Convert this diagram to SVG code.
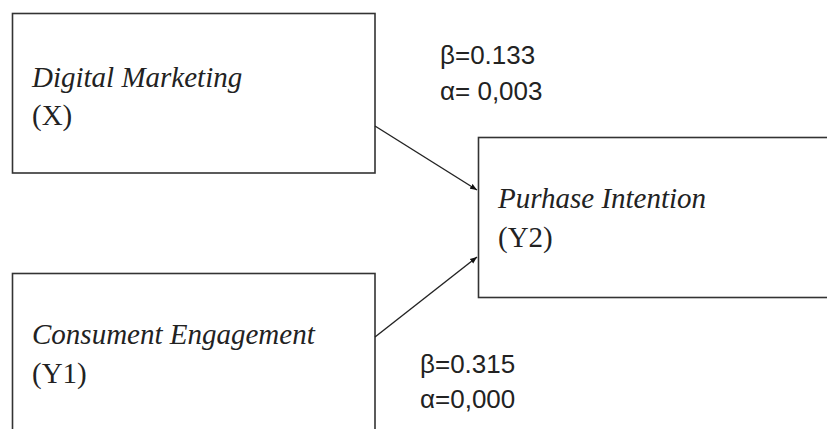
<svg xmlns="http://www.w3.org/2000/svg" width="827" height="429" viewBox="0 0 827 429">
<defs>
<style>
.box{fill:#fff;stroke:#333;stroke-width:1.6}
.nt{font-family:"Liberation Serif","Times New Roman",serif;font-size:29px;fill:#222}
.it{font-style:italic}
.lb{font-family:"Liberation Sans",Arial,sans-serif;font-size:26px;fill:#222}
.cn{stroke:#222;stroke-width:1.4;fill:none;marker-end:url(#ah)}
</style>
<marker id="ah" viewBox="0 0 10 10" refX="10" refY="5" markerWidth="7" markerHeight="7" markerUnits="userSpaceOnUse" orient="auto">
<path d="M0,1 L10,5 L0,9 z" fill="#111"/>
</marker>
</defs>
<rect width="827" height="429" fill="#fff"/>
<g id="node-x">
<rect class="box" x="12.5" y="13.5" width="362.5" height="159.5"/>
<text class="nt it" x="32" y="87">Digital Marketing</text>
<text class="nt" x="32" y="125">(X)</text>
</g>
<g id="node-y2">
<rect class="box" x="478.5" y="137.5" width="360" height="160"/>
<text class="nt it" x="498" y="208">Purhase Intention</text>
<text class="nt" x="498" y="247">(Y2)</text>
</g>
<g id="node-y1">
<rect class="box" x="12.5" y="273.5" width="362.5" height="170"/>
<text class="nt it" x="32" y="344">Consument Engagement</text>
<text class="nt" x="32" y="383">(Y1)</text>
</g>
<g id="connectors">
<line class="cn" x1="375" y1="126" x2="477" y2="190"/>
<line class="cn" x1="375" y1="337" x2="477" y2="257"/>
</g>
<g id="labels">
<text class="lb" x="440" y="64">β=0.133</text>
<text class="lb" x="440" y="100">α= 0,003</text>
<text class="lb" x="420" y="373">β=0.315</text>
<text class="lb" x="420" y="408">α=0,000</text>
</g>
</svg>
